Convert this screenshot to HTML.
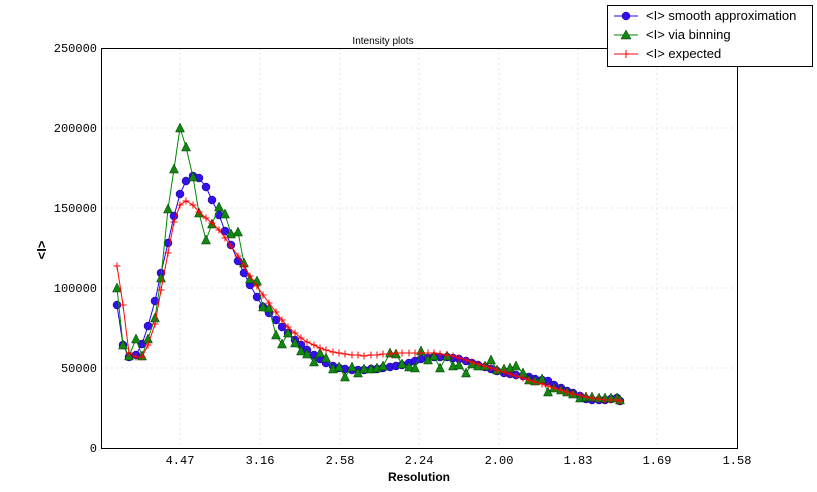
<!DOCTYPE html><html><head><meta charset="utf-8"><style>body{margin:0;background:#fff}svg{display:block;font-family:"Liberation Sans",sans-serif}</style></head><body>
<svg id="s" width="817" height="492" xmlns="http://www.w3.org/2000/svg">
<rect width="817" height="492" fill="#fff"/>
<g stroke="#e6e6e6" stroke-dasharray="2,3" stroke-width="1">
<line x1="180" y1="48" x2="180" y2="448"/><line x1="260" y1="48" x2="260" y2="448"/><line x1="340" y1="48" x2="340" y2="448"/><line x1="419" y1="48" x2="419" y2="448"/><line x1="499" y1="48" x2="499" y2="448"/><line x1="578" y1="48" x2="578" y2="448"/><line x1="657" y1="48" x2="657" y2="448"/>
<line x1="101" y1="128" x2="737" y2="128"/><line x1="101" y1="208" x2="737" y2="208"/><line x1="101" y1="288" x2="737" y2="288"/><line x1="101" y1="368" x2="737" y2="368"/>
</g>
<g id="d"></g>
<rect x="101.5" y="48.5" width="636" height="400" fill="none" stroke="#000"/>
<g font-family="Liberation Mono,monospace" font-size="12" fill="#000" text-anchor="end">
<text x="97" y="52">250000</text><text x="97" y="132">200000</text><text x="97" y="212">150000</text><text x="97" y="292">100000</text><text x="97" y="372">50000</text><text x="97" y="452">0</text></g>
<g font-family="Liberation Mono,monospace" font-size="12" text-anchor="middle">
<text x="180" y="464">4.47</text><text x="260" y="464">3.16</text><text x="340" y="464">2.58</text><text x="419" y="464">2.24</text><text x="499" y="464">2.00</text><text x="578" y="464">1.83</text><text x="657" y="464">1.69</text><text x="737" y="464">1.58</text></g>
<text x="419" y="481" font-size="12" font-weight="bold" text-anchor="middle">Resolution</text>
<text x="383" y="44" font-size="10" text-anchor="middle">Intensity plots</text>
<text transform="translate(46,250) rotate(-90)" font-size="13" font-weight="bold" text-anchor="middle">&lt;I&gt;</text>
<rect x="607.5" y="5.5" width="205" height="61" fill="#fff" stroke="#000"/>
<line x1="614" y1="16" x2="638" y2="16" stroke="#2200ee"/><circle cx="626" cy="16" r="4" fill="#3311ee" stroke="#110077" stroke-width="0.5"/>
<line x1="614" y1="35" x2="638" y2="35" stroke="#008800"/><polygon points="626,30 631,39 621,39" fill="#118811" stroke="#003300" stroke-width="0.5"/>
<line x1="614" y1="54" x2="638" y2="54" stroke="red"/><path d="M622 54h8M626 50v8" stroke="red"/>
<text x="646" y="20" font-size="13">&lt;I&gt; smooth approximation</text>
<text x="646" y="39" font-size="13">&lt;I&gt; via binning</text>
<text x="646" y="58" font-size="13">&lt;I&gt; expected</text>
</svg>
<script>
const X=[117,123,129,136,142,148,155,161,168,174,180,186,193,199,206,212,219,225,231,238,244,250,257,263,269,276,282,288,295,301,307,314,320,326,333,339,345,352,358,364,371,377,383,390,396,402,409,415,421,428,434,440,447,453,459,466,472,478,485,491,497,504,510,516,523,529,535,542,548,554,561,567,573,580,586,592,599,605,611,617,620];
const B=[305,345,357,355,344,326,301,273,243,216,194,181,176,178,187,200,215,231,245,261,273,285,297,307,313,320,327,333,340,345,350,355,359,363,366,368,369,370,370,370,369,369,368,367,366,365,363,361,359,358,357,357,357,358,359,361,363,365,367,369,371,373,374,375,376,377,379,380,381,385,388,391,393,396,399,400,400,400,399,398,401];
const R=[266,305,353,357,357,345,324,290,253,222,205,201,205,212,218,223,230,238,246,256,266,276,286,295,303,312,320,327,333,338,342,345,348,350,352,353,354,355,355,356,355,355,354,354,353,353,353,353,353,353,353,354,355,356,358,360,362,364,366,368,370,372,374,376,378,380,382,384,386,388,390,392,394,395,397,398,399,400,400,400,401];
const G=[288,345,356,339,356,339,318,278,209,169,128,147,177,213,240,224,207,214,234,232,263,279,281,307,308,335,344,333,343,351,354,362,353,358,369,367,377,367,373,369,369,368,366,353,354,364,367,368,351,360,356,368,356,366,365,373,364,366,366,360,370,369,368,366,373,380,381,379,392,388,390,392,394,398,397,397,398,398,398,398,400];
let h='';const pl=(Y,c)=>`<polyline fill="none" stroke="${c}" stroke-width="1" points="${X.map((x,i)=>x+','+Y[i]).join(' ')}"/>`;
h+=pl(B,'#2200ee');X.forEach((x,i)=>h+=`<circle cx="${x}" cy="${B[i]}" r="4" fill="#3311ee" stroke="#110077" stroke-width="0.5"/>`);
h+=pl(G,'#008800');X.forEach((x,i)=>h+=`<polygon points="${x},${G[i]-5} ${x+4.5},${G[i]+4} ${x-4.5},${G[i]+4}" fill="#118811" stroke="#003300" stroke-width="0.5"/>`);
h+=pl(R,'red');X.forEach((x,i)=>h+=`<path d="M${x-3.5} ${R[i]}h7M${x} ${R[i]-3.5}v7" stroke="red" stroke-width="1"/>`);
document.getElementById('d').innerHTML=h;
</script>
</body></html>
